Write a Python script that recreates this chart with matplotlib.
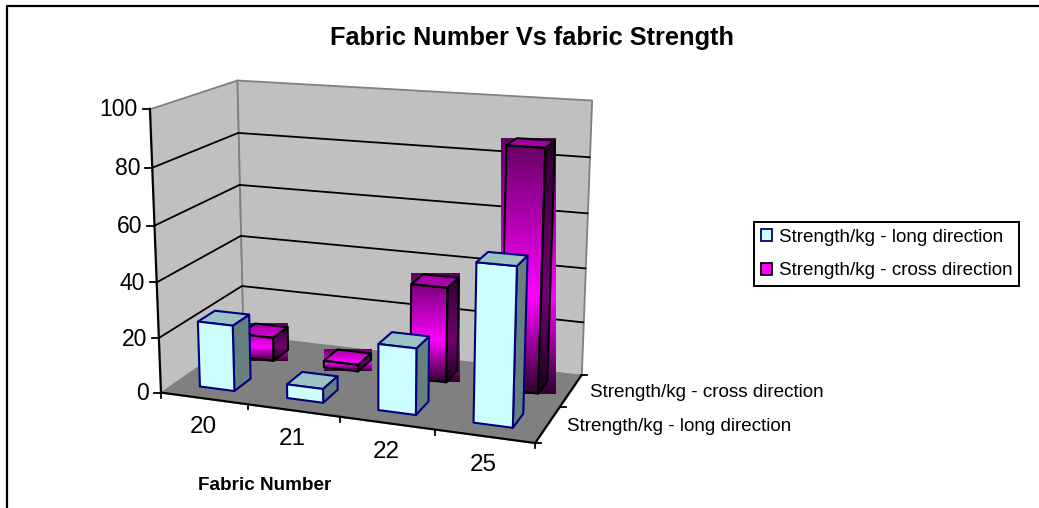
import numpy as np
import matplotlib
matplotlib.use('Agg')
import matplotlib.pyplot as plt
from matplotlib.colors import LinearSegmentedColormap
from matplotlib.patches import Patch
from mpl_toolkits.mplot3d import proj3d
from mpl_toolkits.mplot3d.art3d import Poly3DCollection

plt.rcParams['font.family'] = ['Liberation Sans', 'DejaVu Sans']

categories = ['20', '21', '22', '25']
series_names = ['Strength/kg - long direction', 'Strength/kg - cross direction']
long_values = [24, 5, 23.5, 55]
cross_values = [9, 2.5, 35, 87]
z_ticks = [0, 20, 40, 60, 80, 100]

W, H = 1039, 508
ELEV, AZIM, FOCAL, ZOOM = 14.906, -69.938, 0.555, 1.012
ASPECT = (4, 2.025, 2.988)
CENTER = (367.75, 254.25)
BAR = 0.4

fig = plt.figure(figsize=(W/100, H/100), dpi=100, facecolor='white')


def make_3d(zorder):
    side = 500
    rect = [(CENTER[0]-side/2)/W, 1-(CENTER[1]+side/2)/H, side/W, side/H]
    a = fig.add_axes(rect, projection='3d', zorder=zorder, computed_zorder=False)
    a.set_proj_type('persp', focal_length=FOCAL)
    a.view_init(elev=ELEV, azim=AZIM)
    a.set_box_aspect(ASPECT, zoom=ZOOM)
    a.set_xlim(0, 4, view_margin=0)
    a.set_ylim(0, 2, view_margin=0)
    a.set_zlim(0, 100, view_margin=0)
    a.set_axis_off()
    a.patch.set_alpha(0)
    return a


def make_flat(zorder):
    a = fig.add_axes([0, 0, 1, 1], zorder=zorder)
    a.axis('off')
    a.patch.set_alpha(0)
    return a


ax = make_3d(1)
over = make_flat(2)
ax_top = make_3d(3)
labels = make_flat(4)

# walls and floor
wall = '#c0c0c0'
ax.add_collection3d(Poly3DCollection([[(0, 0, 0), (0, 2, 0), (0, 2, 100), (0, 0, 100)]],
                                     facecolor=wall, edgecolor='#808080', linewidth=1.3, zorder=1))
ax.add_collection3d(Poly3DCollection([[(0, 2, 0), (4, 2, 0), (4, 2, 100), (0, 2, 100)]],
                                     facecolor=wall, edgecolor='#808080', linewidth=1.3, zorder=1))
ax.add_collection3d(Poly3DCollection([[(0, 0, 0), (4, 0, 0), (4, 2, 0), (0, 2, 0)]],
                                     facecolor='#808080', edgecolor='#808080', zorder=2))
for z in z_ticks[1:-1]:
    ax.plot([0, 0, 4], [0, 2, 2], [z, z, z], color='black', lw=1.3, zorder=3)
ax.plot([0, 0], [0, 0], [0, 100], color='black', lw=1.5, zorder=4)
ax.plot([0, 4, 4], [0, 0, 2], [0, 0, 0], color='black', lw=1.5, zorder=4)

fig.canvas.draw()
M = ax.get_proj()


def to_px(x, y, z):
    px, py, _ = proj3d.proj_transform(x, y, z, M)
    p = ax.transData.transform((px, py))
    return p[0], H - p[1]


# ticks and tick labels
for z in z_ticks:
    x0, y0 = to_px(0, 0, z)
    labels.plot([x0-7, x0], [y0, y0], color='black', lw=1.3)
    labels.text(x0-12, y0+1, str(z), ha='right', va='center', fontsize=16.5)
for i in range(5):
    x0, y0 = to_px(i, 0, 0)
    labels.plot([x0, x0], [y0, y0+5], color='black', lw=1.3)
for i, name in enumerate(categories):
    x0, y0 = to_px(i+0.5, 0, 0)
    labels.text(x0-1, y0+29, name, ha='center', va='center', fontsize=17.5)
for j in range(3):
    x0, y0 = to_px(4, j, 0)
    labels.plot([x0, x0+6], [y0, y0], color='black', lw=1.3)
for j, name in enumerate(series_names):
    x0, y0 = to_px(4, j+0.5, 0)
    labels.text(x0+19, y0+2, name, ha='left', va='center', fontsize=13.6)

# gradient boxes behind the cross direction bars
grad = LinearSegmentedColormap.from_list('grad', [(0, '#600060'), (0.62, '#ff00ff'), (1, '#300030')])
column = np.linspace(0, 1, 128).reshape(-1, 1)
for i, v in enumerate(cross_values):
    xs, ys = [], []
    for cx in (i+0.5-BAR/2, i+0.5+BAR/2):
        for cy in (1.5-BAR/2, 1.5+BAR/2):
            for cz in (0, v):
                px, py = to_px(cx, cy, cz)
                xs.append(px)
                ys.append(py)
    over.imshow(column, cmap=grad, vmin=0, vmax=1, aspect='auto',
                extent=(min(xs), max(xs), max(ys), min(ys)), interpolation='bilinear')
over.set_xlim(0, W)
over.set_ylim(H, 0)
over.axis('off')
labels.set_xlim(0, W)
labels.set_ylim(H, 0)

clear = (0, 0, 0, 0)
# bar3d face order: bottom, top, front, back, left, right
cross_face = [clear, (1, 0, 1, 0.4), clear, clear, clear, (0, 0, 0, 0.55)]
cross_edge = [clear, 'black', 'black', clear, clear, 'black']
long_face = [clear, '#9cc3c3', '#ccffff', clear, clear, '#668080']
long_edge = [clear, '#000080', '#000080', clear, clear, '#000080']

pos = np.arange(len(categories)) + 0.5 - BAR/2
ax_top.bar3d(pos, np.full(4, 1.5-BAR/2), np.zeros(4), BAR, BAR, cross_values,
             color=cross_face*4, edgecolor=cross_edge*4, linewidth=1.5, shade=False, zorder=1)
ax_top.bar3d(pos, np.full(4, 0.5-BAR/2), np.zeros(4), BAR, BAR, long_values,
             color=long_face*4, edgecolor=long_edge*4, linewidth=1.5, shade=False, zorder=2)

# chart area border, title and axis title
labels.plot([6.5, 6.5, W], [H, 6, 6], color='black', lw=1.6, clip_on=False)
labels.text(532, 38, 'Fabric Number Vs fabric Strength', ha='center', va='center',
            fontsize=18.3, fontweight='bold')
labels.text(265, 485, 'Fabric Number', ha='center', va='center', fontsize=13.6, fontweight='bold')

handles = [Patch(facecolor='#ccffff', edgecolor='#000080', linewidth=1.3),
           Patch(facecolor='#ff00ff', edgecolor='black', linewidth=1.3)]
leg = labels.legend(handles, series_names, loc='upper left',
                    bbox_to_anchor=(754/W, 1-222/H), bbox_transform=fig.transFigure,
                    fontsize=13.6, frameon=True, fancybox=False, edgecolor='black', framealpha=1,
                    handlelength=0.58, handleheight=0.58, handletextpad=0.37, labelspacing=0.88,
                    borderpad=0.36, borderaxespad=0)
leg.get_frame().set_linewidth(1.4)

fig.savefig('out.png', dpi=100)
